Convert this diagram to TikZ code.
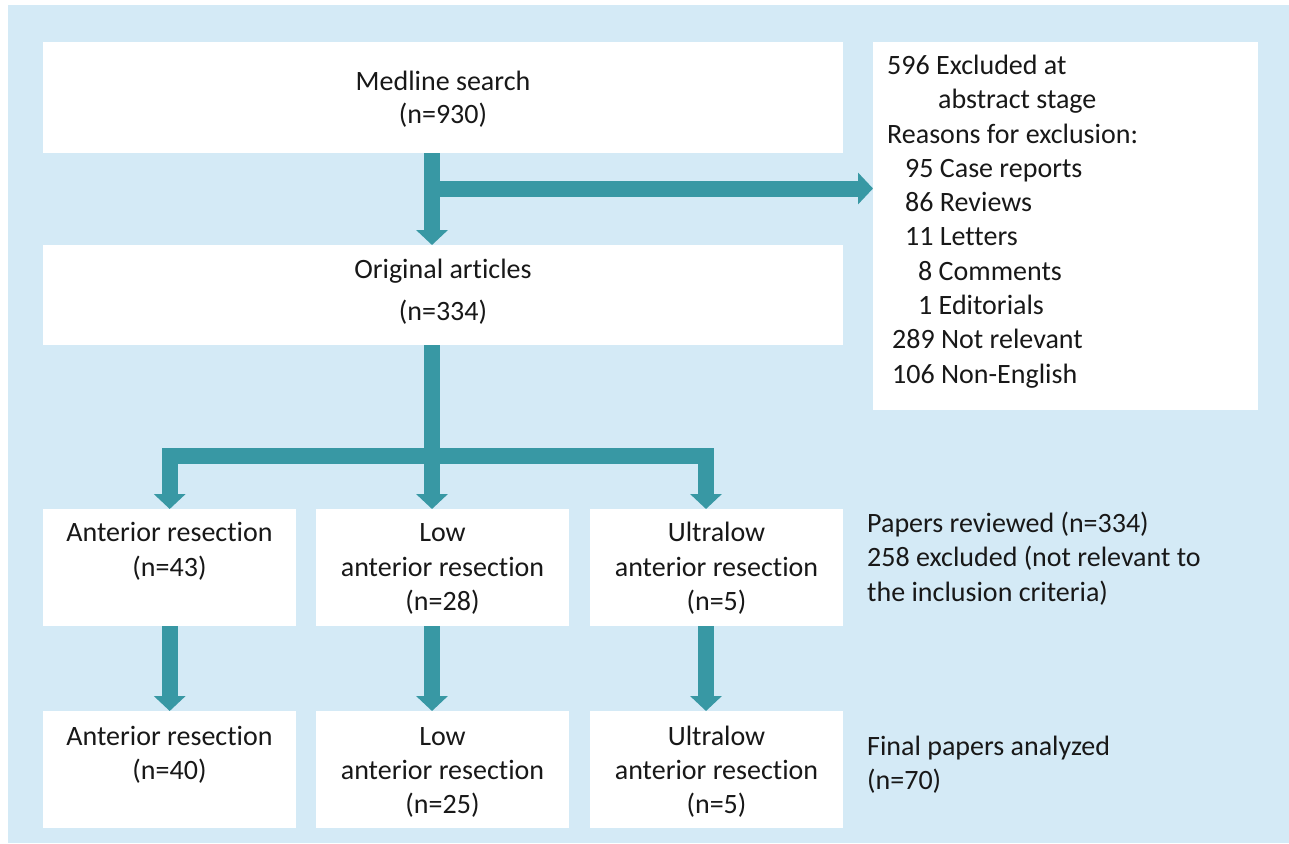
\documentclass[tikz,border=0pt]{standalone}
\usepackage{fontspec}
\setmainfont{Carlito}[RawFeature=-liga]
\usetikzlibrary{arrows.meta,calc}
\definecolor{bgblue}{RGB}{212,234,246}
\definecolor{arrteal}{RGB}{56,152,164}
\definecolor{txtcol}{RGB}{24,24,24}
\begin{document}
\begin{tikzpicture}[x=1pt,y=-1pt,
  box/.style={fill=white, draw=none, inner sep=0pt, anchor=north west},
  txt/.style={inner sep=0pt, text=txtcol, font=\fontsize{28pt}{34.3pt}\selectfont, align=center, anchor=north},
  ltxt/.style={txt, align=left, anchor=north west},
  arr/.style={draw=arrteal, line width=16pt, line join=miter, -{Triangle[width=31pt,length=15pt]}}]
\useasboundingbox (0,0) rectangle (1289,843);
\fill[white] (0,0) rectangle (1289,843);
\fill[bgblue] (8,5) rectangle (1289,843);
% boxes
\node[box, minimum width=800pt, minimum height=111pt] (medline) at (43,42) {};
\node[box, minimum width=800pt, minimum height=100pt] (orig) at (43,245) {};
\node[box, minimum width=385pt, minimum height=368pt] (excl) at (873,42) {};
\node[box, minimum width=253pt, minimum height=117pt] (b31) at (43,509) {};
\node[box, minimum width=253pt, minimum height=117pt] (b32) at (316,509) {};
\node[box, minimum width=253pt, minimum height=117pt] (b33) at (590,509) {};
\node[box, minimum width=253pt, minimum height=117pt] (b41) at (43,711) {};
\node[box, minimum width=253pt, minimum height=117pt] (b42) at (316,711) {};
\node[box, minimum width=253pt, minimum height=117pt] (b43) at (590,711) {};
% texts
\node[txt, font=\fontsize{28pt}{33pt}\selectfont] (tmed) at (443,66.9) {\strut Medline search\\\strut (n=930)};
\node[txt, font=\fontsize{28pt}{42pt}\selectfont] (torig) at (443,248.6) {\strut Original articles\\\strut (n=334)};
\node[ltxt] (texcl) at (887,50.2) {\strut 596 Excluded at\\
\strut\hspace*{51pt}abstract stage\\
\strut Reasons for exclusion:\\
\strut\hspace*{18pt}95 Case reports\\
\strut\hspace*{18pt}86 Reviews\\
\strut\hspace*{18pt}11 Letters\\
\strut\hspace*{31pt}8 Comments\\
\strut\hspace*{31pt}1 Editorials\\
\strut\hspace*{5pt}289 Not relevant\\
\strut\hspace*{5pt}106 Non-English};
\node[txt] (t31) at (169.5,517.7) {\strut Anterior resection\\\strut (n=43)};
\node[txt] (t32) at (442.5,517.7) {\strut Low\\\strut anterior resection\\\strut (n=28)};
\node[txt] (t33) at (716.5,517.7) {\strut Ultralow\\\strut anterior resection\\\strut (n=5)};
\node[txt] (t41) at (169.5,721) {\strut Anterior resection\\\strut (n=40)};
\node[txt] (t42) at (442.5,721) {\strut Low\\\strut anterior resection\\\strut (n=25)};
\node[txt] (t43) at (716.5,721) {\strut Ultralow\\\strut anterior resection\\\strut (n=5)};
\node[ltxt] (trev) at (867,508.2) {\strut Papers reviewed (n=334)\\\strut 258 excluded (not relevant to\\\strut the inclusion criteria)};
\node[ltxt] (tfin) at (867,731) {\strut Final papers analyzed\\\strut (n=70)};
% connectors
\coordinate (ax1) at (432,188.5);
\coordinate (bar) at (432,455.5);
\coordinate (ax3) at (706,455.5);
\draw[arr] (medline.south -| ax1) -- (orig.north -| ax1);
\draw[arr] (ax1) -- (ax1 -| excl.west);
\draw[arr] (orig.south -| bar) -- (b32.north -| bar);
\draw[arr] (orig.south -| bar) -- (bar) -| (b31.north);
\draw[arr] (bar) -- (ax3) -- (b33.north -| ax3);
\draw[arr] (b31.south) -- (b41.north);
\draw[arr] (b32.south -| bar) -- (b42.north -| bar);
\draw[arr] (b33.south -| ax3) -- (b43.north -| ax3);
\end{tikzpicture}
\end{document}
